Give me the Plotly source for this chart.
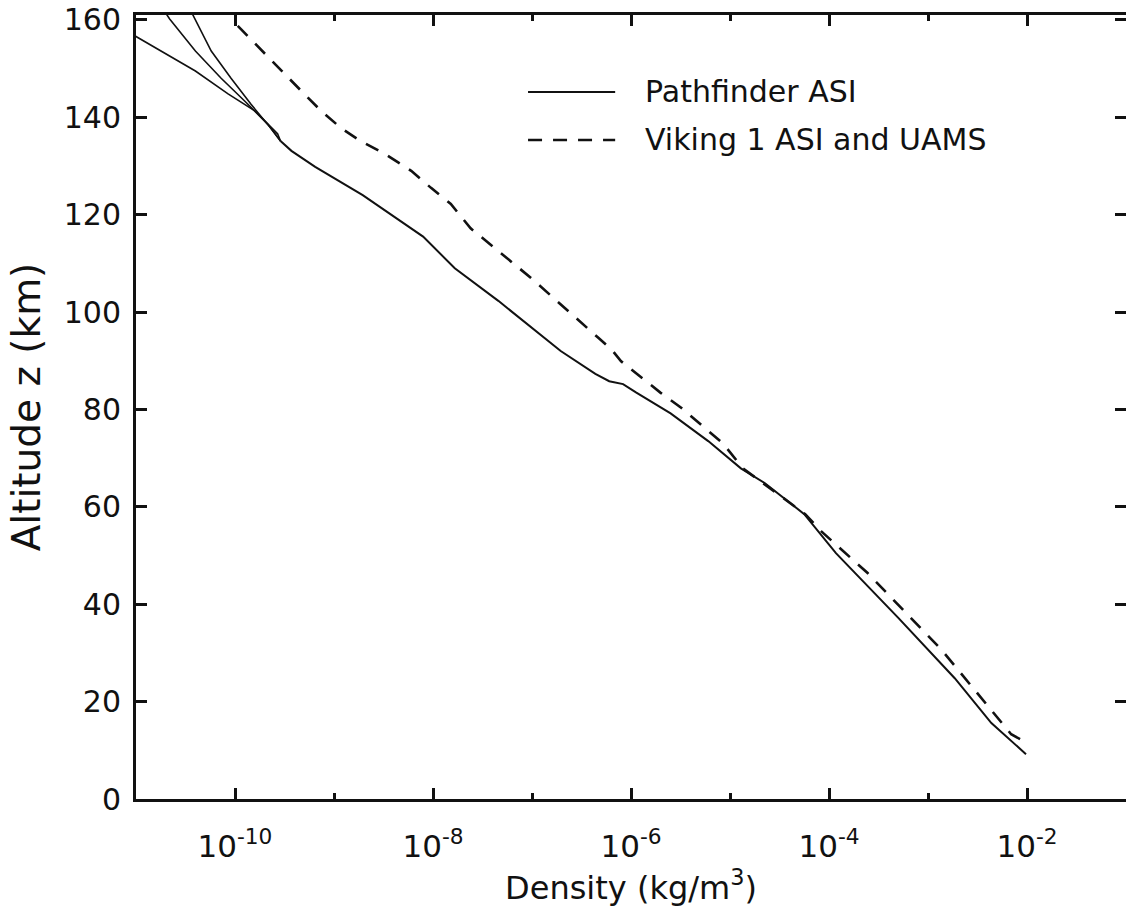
import numpy as np
import plotly.graph_objects as go

# ---- data (altitude km, log10 density kg/m^3) ----
pf_alt = [9.2, 15.6, 24.8, 37.2, 50.5, 58.5, 64.9, 67.9, 73.5, 79.2, 83.5, 85.2, 85.8,
          87.3, 92.0, 102.3, 109.0, 115.5, 124.0, 129.8, 133.1, 135.1]
pf_logrho = [-2.01, -2.36, -2.73, -3.30, -3.93, -4.25, -4.65, -4.89, -5.22, -5.60, -5.95, -6.08, -6.22,
             -6.36, -6.71, -7.34, -7.78, -8.10, -8.71, -9.19, -9.43, -9.54]

branch_a_alt = [135.1, 136.6, 141.3, 144.8, 149.5, 153.6, 156.7, 158.5]
branch_a_logrho = [-9.54, -9.57, -9.80, -10.07, -10.40, -10.75, -11.01, -11.25]
branch_b_alt = [135.1, 138.6, 143.3, 148.0, 153.6, 160.2, 162.0]
branch_b_logrho = [-9.54, -9.67, -9.90, -10.14, -10.40, -10.66, -10.72]
branch_c_alt = [135.1, 137.8, 142.7, 148.0, 153.6, 160.2, 162.0]
branch_c_logrho = [-9.54, -9.64, -9.84, -10.04, -10.24, -10.40, -10.45]

vk_alt = [12.3, 13.3, 30.8, 46.4, 55.0, 58.5, 67.9, 73.0, 80.3, 83.4, 89.9, 92.4, 94.7,
          107.0, 117.2, 122.2, 125.5, 129.0, 132.4, 135.1, 137.8, 141.3, 145.4, 153.0, 158.1, 160.0]
vk_logrho = [-2.07, -2.16, -2.87, -3.61, -4.08, -4.24, -4.87, -5.07, -5.49, -5.70, -6.10, -6.20, -6.33,
             -7.01, -7.62, -7.82, -8.02, -8.22, -8.48, -8.73, -8.93, -9.13, -9.33, -9.70, -9.94, -10.03]

major_exp = [-10, -8, -6, -4, -2]
minor_exp = [-11, -9, -7, -5, -3]
x_tick_text = ["10<sup>%d</sup>" % e for e in major_exp]
y_ticks = [0, 20, 40, 60, 80, 100, 120, 140, 160]

legend_names = ["Pathfinder ASI", "Viking 1 ASI and UAMS"]

FONT = "DejaVu Sans"
BLACK = "#111111"

fig = go.Figure()
solid = dict(color=BLACK, width=2)
fig.add_trace(go.Scatter(x=10 ** np.array(pf_logrho), y=pf_alt, mode="lines", line=solid,
                         name=legend_names[0], showlegend=False))
branches = [(branch_a_logrho, branch_a_alt, "y"), (branch_b_logrho, branch_b_alt, "y"),
            (branch_c_logrho, branch_c_alt, "y2")]
for bl, ba, yax in branches:
    fig.add_trace(go.Scatter(x=10 ** np.array(bl), y=ba, mode="lines", yaxis=yax,
                             line=dict(color=BLACK, width=1.6), showlegend=False))
fig.add_trace(go.Scatter(x=10 ** np.array(vk_logrho), y=vk_alt, mode="lines",
                         line=dict(color=BLACK, width=2.6, dash="14px,11px"),
                         name=legend_names[1], showlegend=False))

# manual legend (long line samples as in the original)
leg_rows = [(0.9018, "solid", 2), (0.8406, "14px,11px", 2.6)]
for (yy, dsh, w), name in zip(leg_rows, legend_names):
    fig.add_shape(type="line", xref="paper", yref="paper", x0=0.396, x1=0.484, y0=yy, y1=yy,
                  line=dict(color=BLACK, width=w, dash=dsh))
    fig.add_annotation(xref="paper", yref="paper", x=0.512, y=yy, text=name, showarrow=False,
                       xanchor="left", yanchor="middle", font=dict(family=FONT, size=30, color=BLACK))

fig.update_layout(
    width=1126, height=912,
    margin=dict(l=136, r=0, t=15, b=113),
    paper_bgcolor="white", plot_bgcolor="white",
    font=dict(family=FONT, color=BLACK),
    showlegend=False,
)
fig.update_xaxes(
    type="log", range=[-11, -1],
    tickmode="array", tickvals=[10.0 ** e for e in major_exp], ticktext=x_tick_text,
    ticks="inside", ticklen=11, tickwidth=3, tickcolor=BLACK,
    minor=dict(tickmode="array", tickvals=[10.0 ** e for e in minor_exp], ticks="inside",
               ticklen=6, tickwidth=3, tickcolor=BLACK),
    showline=True, linewidth=3, linecolor=BLACK, mirror="ticks",
    showgrid=False, zeroline=False, ticklabelstandoff=18,
    tickfont=dict(family=FONT, size=31, color=BLACK),
    title=dict(text="Density (kg/m<sup>3</sup>)", font=dict(family=FONT, size=32, color=BLACK), standoff=8),
)
fig.update_layout(
    yaxis=dict(
        range=[0, 161], tickmode="array", tickvals=y_ticks,
        ticks="inside", ticklen=11, tickwidth=3, tickcolor=BLACK,
        showline=True, linewidth=3, linecolor=BLACK, mirror=False,
        showgrid=False, zeroline=False, ticklabelstandoff=6,
        tickfont=dict(family=FONT, size=30, color=BLACK),
        title=dict(text="Altitude z (km)", font=dict(family=FONT, size=39, color=BLACK), standoff=12),
    ),
    yaxis2=dict(
        overlaying="y", side="right", matches="y", range=[0, 161],
        tickmode="array", tickvals=y_ticks, ticks="inside", ticklen=11, tickwidth=3, tickcolor=BLACK,
        showline=False, showticklabels=False, showgrid=False, zeroline=False,
    ),
)

fig.write_html("out.html")
